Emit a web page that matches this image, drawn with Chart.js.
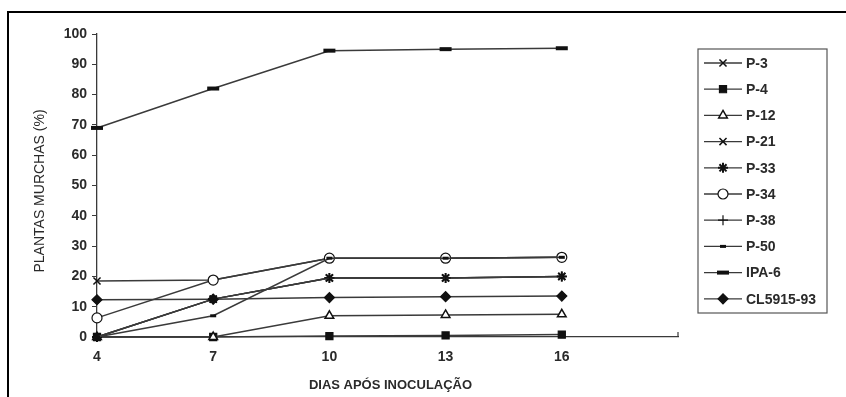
<!DOCTYPE html>
<html>
<head>
<meta charset="utf-8">
<script src="https://cdn.jsdelivr.net/npm/chart.js@4"></script>
<style>
  html, body { margin: 0; padding: 0; background: #fff; }
  #wrap { width: 846px; height: 397px; position: relative; }
</style>
</head>
<body>
<div id="wrap"><canvas id="c" width="846" height="397"></canvas></div>
<script>
// ---- data ----
const days = [4, 7, 10, 13, 16];
const seriesNames = ["P-3", "P-4", "P-12", "P-21", "P-33", "P-34", "P-38", "P-50", "IPA-6", "CL5915-93"];
const p3    = [18.5, 18.8, 26, 26, 26.3];
const p4    = [0, 0, 0.3, 0.5, 0.8];
const p12   = [0, 0, 7, 7.3, 7.5];
const p21   = [0, 12.5, 19.5, 19.5, 20];
const p33   = [0, 12.5, 19.5, 19.5, 20];
const p34   = [6.3, 18.8, 26, 26, 26.3];
const p38   = [0, 12.5, 19.5, 19.5, 20];
const p50   = [0, 7, 26, 26, 26.3];
const ipa6  = [69, 82, 94.5, 95, 95.3];
const cl5915 = [12.3, 12.5, 13, 13.3, 13.5];
const yTicks = [0, 10, 20, 30, 40, 50, 60, 70, 80, 90, 100];
const xTitle = "DIAS APÓS INOCULAÇÃO";
const yTitle = "PLANTAS MURCHAS (%)";

const INK = '#2a2a2a';
const LINE = '#3a3a3a';
const FONT = '"Liberation Sans", Arial, sans-serif';

function pts(vals) { return days.map((d, i) => ({ x: d, y: vals[i] })); }

const styles = [
  { style: 'crossRot', r: 5, bg: '#fff', bw: 1.5 },
  { style: 'rect', r: 5, bg: '#111', bw: 1.2 },
  { style: 'triangle', r: 5, bg: '#fff', bw: 1.5 },
  { style: 'crossRot', r: 5, bg: '#fff', bw: 1.5 },
  { style: 'star', r: 5, bg: '#111', bw: 2 },
  { style: 'circle', r: 5, bg: '#fff', bw: 1.2 },
  { style: 'cross', r: 5, bg: '#fff', bw: 1.2 },
  { style: 'line', r: 3, bg: '#111', bw: 3 },
  { style: 'line', r: 6, bg: '#111', bw: 4 },
  { style: 'rectRot', r: 5, bg: '#111', bw: 1.2 }
];
const allVals = [p3, p4, p12, p21, p33, p34, p38, p50, ipa6, cl5915];

const datasets = seriesNames.map((name, i) => ({
  label: name,
  data: pts(allVals[i]),
  borderColor: LINE,
  borderWidth: 1.5,
  pointStyle: styles[i].style,
  pointRadius: styles[i].r,
  pointBackgroundColor: styles[i].bg,
  pointBorderColor: '#111',
  pointBorderWidth: styles[i].bw,
  tension: 0,
  fill: false,
  clip: false,
  order: seriesNames.length - i
}));

const decor = {
  id: 'decor',
  afterDraw(chart) {
    const ctx = chart.ctx;
    const xs = chart.scales.x, ys = chart.scales.y;
    ctx.save();
    // outer frame (top & left)
    ctx.strokeStyle = '#000';
    ctx.lineWidth = 2;
    ctx.beginPath();
    ctx.moveTo(8, 397);
    ctx.lineTo(8, 12);
    ctx.lineTo(846, 12);
    ctx.stroke();
    // end tick of x axis
    ctx.strokeStyle = LINE;
    ctx.lineWidth = 1.2;
    const xe = xs.getPixelForValue(19), y0 = ys.getPixelForValue(0);
    ctx.beginPath();
    ctx.moveTo(xe, y0);
    ctx.lineTo(xe, y0 - 5);
    ctx.stroke();
    // axis titles
    ctx.fillStyle = INK;
    ctx.textAlign = 'center';
    ctx.textBaseline = 'middle';
    ctx.font = 'bold 13px ' + FONT;
    ctx.fillText(xTitle, (xs.left + xs.right) / 2 + 3, 385);
    ctx.save();
    ctx.translate(40, 191);
    ctx.rotate(-Math.PI / 2);
    ctx.font = '14px ' + FONT;
    ctx.fillText(yTitle, 0, 0);
    ctx.restore();
    // legend
    const lx = 698, ly = 49, lw = 129, lh = 264;
    ctx.strokeStyle = '#555';
    ctx.lineWidth = 1.2;
    ctx.strokeRect(lx, ly, lw, lh);
    ctx.textAlign = 'left';
    ctx.font = 'bold 14px ' + FONT;
    chart.data.datasets.forEach((ds, i) => {
      const cy = 63 + i * 26.2;
      ctx.strokeStyle = LINE;
      ctx.lineWidth = 1.3;
      ctx.beginPath();
      ctx.moveTo(704, cy);
      ctx.lineTo(742, cy);
      ctx.stroke();
      ctx.fillStyle = ds.pointBackgroundColor;
      ctx.strokeStyle = ds.pointBorderColor;
      ctx.lineWidth = ds.pointBorderWidth;
      Chart.helpers.drawPoint(ctx, { pointStyle: ds.pointStyle, radius: ds.pointRadius, borderWidth: ds.pointBorderWidth, rotation: 0 }, 723, cy);
      ctx.fillStyle = INK;
      ctx.fillText(ds.label, 746, cy + 1);
    });
    ctx.restore();
  }
};

new Chart(document.getElementById('c'), {
  type: 'line',
  data: { datasets },
  plugins: [decor],
  options: {
    responsive: false,
    animation: false,
    layout: { padding: { left: 0, right: 168, top: 34, bottom: 0 } },
    plugins: { legend: { display: false }, tooltip: { enabled: false } },
    scales: {
      x: {
        type: 'linear',
        min: 4, max: 19,
        afterBuildTicks(scale) { scale.ticks = days.map(v => ({ value: v })); },
        afterFit(scale) { scale.height = 60; },
        grid: { drawOnChartArea: false, drawTicks: false },
        border: { display: true, color: LINE, width: 1.3 },
        ticks: { color: INK, padding: 12, font: { family: FONT, size: 14, weight: 'bold' } }
      },
      y: {
        min: 0, max: 100,
        afterBuildTicks(scale) { scale.ticks = yTicks.map(v => ({ value: v })); },
        afterFit(scale) { scale.width = 97; },
        grid: { drawOnChartArea: false, drawTicks: true, tickLength: 5, color: LINE },
        border: { display: true, color: LINE, width: 1.3 },
        ticks: { color: INK, padding: 5, font: { family: FONT, size: 14, weight: 'bold' } }
      }
    }
  }
});
</script>
</body>
</html>
